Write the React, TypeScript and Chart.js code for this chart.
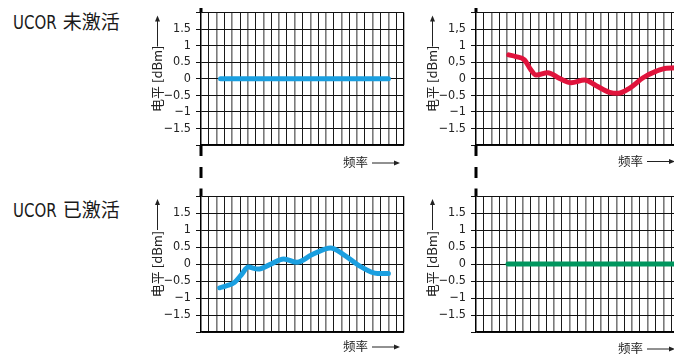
import React, { useEffect, useRef } from "react";
import { Chart, registerables } from "chart.js";
Chart.register(...registerables);

// ---- data ----
const FREQ_MIN = 0;
const FREQ_MAX = 26;
const LEVEL_MIN = -2;
const LEVEL_MAX = 2;
const levelTicks = [-2, -1.5, -1, -0.5, 0, 0.5, 1, 1.5, 2];
const tickLabelsDot = ["", "−1.5", "−1", "−0.5", "0", "0.5", "1", "1.5", ""];
const tickLabelsComma = ["", "−1.5", "−1", "−0.5", "0", "0,5", "1", "1,5", ""];

const rowTitles = ["UCOR 未激活", "UCOR 已激活"];
const yAxisTitle = "电平 [dBm]";
const xAxisTitle = "频率";

// UCOR inactive, left: flat
const offFreqLeft = [2.5, 24];
const offLevelLeft = [0, 0];
// UCOR inactive, right: ripple
const offFreqRight = [4.2, 5.1, 6.2, 7.0, 7.7, 9.2, 10.7, 12.2, 13.9, 15.4, 17.1, 18.2, 19.7, 21.4, 23.1, 24.4, 26];
const offLevelRight = [0.72, 0.67, 0.57, 0.28, 0.11, 0.18, 0.01, -0.12, -0.04, -0.21, -0.41, -0.44, -0.28, 0.03, 0.23, 0.32, 0.33];
// UCOR active, left: ripple
const onFreqLeft = [2.4, 3.3, 4.3, 5.2, 6.05, 7.3, 8.8, 10.6, 12.3, 14.2, 16.6, 18.3, 20.4, 22.6, 24];
const onLevelLeft = [-0.7, -0.64, -0.54, -0.31, -0.09, -0.15, -0.02, 0.15, 0.05, 0.27, 0.47, 0.27, -0.07, -0.28, -0.28];
// UCOR active, right: flat
const onFreqRight = [4.1, 26];
const onLevelRight = [0, 0];

const BLUE = "#1a9fe0";
const RED = "#e0143c";
const GREEN = "#00965e";

type PanelProps = {
  freq: number[];
  level: number[];
  color: string;
  labels: string[];
  left: number;
  top: number;
  height: number;
  padTop: number;
  xTitleDy: number;
  row: number;
};

const decoPlugin = {
  id: "deco",
  afterDraw(chart: any) {
    const o = chart.options.plugins.deco;
    const { ctx } = chart;
    const { left, right, top, bottom } = chart.chartArea;
    const y0 = chart.scales.y.getPixelForValue(0);
    ctx.save();
    // y axis title
    ctx.fillStyle = "#222";
    ctx.strokeStyle = "#222";
    ctx.font = "13px 'Liberation Sans Narrow', 'Noto Sans CJK SC'";
    ctx.save();
    ctx.translate(left - 43.5, y0);
    ctx.rotate(-Math.PI / 2);
    ctx.textAlign = "center";
    ctx.textBaseline = "middle";
    ctx.fillText(yAxisTitle, 0, 0);
    ctx.restore();
    // vertical arrow
    const ax = left - 43.5;
    ctx.lineWidth = 1;
    ctx.beginPath();
    ctx.moveTo(ax, top + 34);
    ctx.lineTo(ax, top + 7);
    ctx.stroke();
    ctx.beginPath();
    ctx.moveTo(ax, top + 3);
    ctx.lineTo(ax - 2.5, top + 9);
    ctx.lineTo(ax + 2.5, top + 9);
    ctx.closePath();
    ctx.fill();
    // x axis title
    const ty = bottom + o.xTitleDy;
    ctx.font = "12.5px 'Noto Sans CJK SC'";
    ctx.textAlign = "right";
    ctx.textBaseline = "middle";
    ctx.fillText(xAxisTitle, right - 36, ty);
    ctx.beginPath();
    ctx.moveTo(right - 32, ty + 0.5);
    ctx.lineTo(right - 9, ty + 0.5);
    ctx.stroke();
    ctx.beginPath();
    ctx.moveTo(right - 4, ty + 0.5);
    ctx.lineTo(right - 10, ty - 2);
    ctx.lineTo(right - 10, ty + 3);
    ctx.closePath();
    ctx.fill();
    // thick edge marks on the left border
    ctx.fillStyle = "#000";
    if (o.row === 0) {
      ctx.fillRect(left - 1.5, top - 4.5, 3, 4.5);
      ctx.fillRect(left - 1.5, bottom, 3, 11);
      ctx.fillRect(left - 1.5, bottom + 22, 3, 11);
    } else {
      ctx.fillRect(left - 1.5, top - 7.5, 3, 7.5);
    }
    ctx.restore();
  },
};

function Panel(p: PanelProps) {
  const ref = useRef<HTMLCanvasElement>(null);
  useEffect(() => {
    const canvas = ref.current!;
    const xAxisH = p.height - p.padTop - 136;
    const chart = new Chart(canvas, {
      type: "line",
      data: {
        datasets: [
          {
            data: p.freq.map((f, i) => ({ x: f, y: p.level[i] })),
            borderColor: p.color,
            borderWidth: 5,
            pointRadius: 0,
            borderCapStyle: "round",
            borderJoinStyle: "round",
            cubicInterpolationMode: "monotone",
            fill: false,
          } as any,
        ],
      },
      options: {
        animation: false,
        responsive: false,
        devicePixelRatio: 1,
        layout: { padding: { top: p.padTop, right: 6, left: 0, bottom: 0 } },
        plugins: {
          legend: { display: false },
          tooltip: { enabled: false },
          deco: { xTitleDy: p.xTitleDy, row: p.row },
        } as any,
        scales: {
          x: {
            type: "linear",
            min: FREQ_MIN,
            max: FREQ_MAX,
            ticks: { display: false, stepSize: 1 },
            grid: {
              drawTicks: false,
              color: (c: any) => {
                const v = c.tick ? c.tick.value : 0;
                if (v === FREQ_MIN || v === FREQ_MAX) return "#000";
                return v % 2 === 1 ? "#1a1a1a" : "#7a7a7a";
              },
              lineWidth: (c: any) => {
                const v = c.tick ? c.tick.value : 0;
                if (v === FREQ_MIN || v === FREQ_MAX) return 1.3;
                return v % 2 === 1 ? 1 : 1.6;
              },
            },
            border: { display: true, color: "#000", width: 1.3 },
            afterFit: (s: any) => {
              s.height = xAxisH;
            },
          },
          y: {
            type: "linear",
            min: LEVEL_MIN,
            max: LEVEL_MAX,
            afterBuildTicks: (s: any) => {
              s.ticks = levelTicks.map((v) => ({ value: v }));
            },
            ticks: {
              autoSkip: false,
              padding: 5,
              color: "#222",
              font: { family: "'Liberation Sans Narrow', 'DejaVu Sans Condensed'", size: 12.5 },
              callback: (_v: any, i: number) => p.labels[i],
            },
            grid: { color: "#111", lineWidth: 1, tickLength: 5 },
            border: { display: true, color: "#000", width: 1.3 },
            afterFit: (s: any) => {
              s.width = 71;
            },
          },
        },
      } as any,
      plugins: [decoPlugin],
    });
    return () => chart.destroy();
  }, []);
  return (
    <canvas
      ref={ref}
      width={280}
      height={p.height}
      style={{ position: "absolute", left: p.left, top: p.top, width: 280, height: p.height }}
    />
  );
}

function RowTitle({ text, top }: { text: string; top: number }) {
  const [latin, cjk] = text.split(" ");
  return (
    <div
      style={{
        position: "absolute",
        left: 12.5,
        top,
        height: 19,
        lineHeight: "19px",
        whiteSpace: "nowrap",
        color: "#1a1a1a",
        fontSize: 19,
      }}
    >
      <span
        style={{
          display: "inline-block",
          fontFamily: "'Liberation Sans Narrow', 'DejaVu Sans Condensed', sans-serif",
          transform: "scaleX(0.875)",
          transformOrigin: "left center",
          marginRight: -5.5,
        }}
      >
        {latin}
      </span>
      <span style={{ fontFamily: "'Noto Sans CJK SC', sans-serif", marginLeft: 6 }}>{cjk}</span>
    </div>
  );
}

export default function App() {
  return (
    <div
      style={{
        position: "fixed",
        left: 0,
        top: 0,
        width: 674,
        height: 356,
        overflow: "hidden",
        background: "#fff",
      }}
    >
      <RowTitle text={rowTitles[0]} top={11} />
      <RowTitle text={rowTitles[1]} top={199} />
      <Panel freq={offFreqLeft} level={offLevelLeft} color={BLUE} labels={tickLabelsDot}
        left={130} top={0} height={183} padTop={9} xTitleDy={17.5} row={0} />
      <Panel freq={offFreqRight} level={offLevelRight} color={RED} labels={tickLabelsComma}
        left={405} top={0} height={183} padTop={9} xTitleDy={16} row={0} />
      <Panel freq={onFreqLeft} level={onLevelLeft} color={BLUE} labels={tickLabelsDot}
        left={130} top={183} height={173} padTop={13} xTitleDy={14.5} row={1} />
      <Panel freq={onFreqRight} level={onLevelRight} color={GREEN} labels={tickLabelsDot}
        left={405} top={183} height={173} padTop={13} xTitleDy={16.5} row={1} />
    </div>
  );
}
